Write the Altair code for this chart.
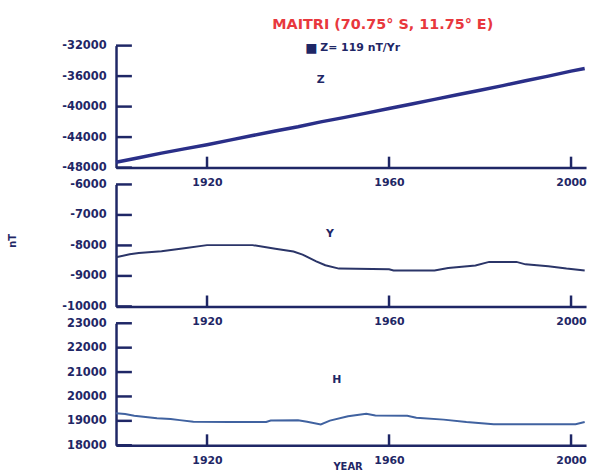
import altair as alt
import pandas as pd

# Vertical field component Z (nT), sampled every few years
years_z = [1900, 1905, 1910, 1915, 1920, 1925, 1930, 1935, 1940, 1945, 1950,
           1955, 1960, 1965, 1970, 1975, 1980, 1985, 1990, 1995, 2000, 2003]
z_nt = [-47300, -46700, -46100, -45550, -45000, -44400, -43800, -43200,
        -42650, -42000, -41450, -40850, -40250, -39650, -39050, -38450,
        -37850, -37250, -36600, -36000, -35350, -35000]

# East component Y (nT)
years_y = [1900, 1903, 1905, 1910, 1915, 1920, 1930, 1933, 1935, 1939, 1941,
           1944, 1946, 1949, 1960, 1961, 1970, 1973, 1979, 1982, 1988, 1990,
           1995, 1999, 2003]
y_nt = [-8390, -8290, -8250, -8190, -8090, -7990, -7990, -8060, -8110, -8200,
        -8300, -8520, -8650, -8760, -8780, -8820, -8820, -8740, -8660, -8540,
        -8540, -8620, -8680, -8760, -8820]

# Horizontal intensity H (nT)
years_h = [1900, 1902, 1904, 1906, 1909, 1912, 1914, 1917, 1925, 1933, 1934,
           1940, 1942, 1945, 1947, 1951, 1953, 1955, 1957, 1964, 1966, 1972,
           1977, 1983, 2001, 2003]
h_nt = [19310, 19280, 19210, 19170, 19110, 19080, 19030, 18960, 18950, 18950,
        19010, 19020, 18960, 18850, 19010, 19190, 19240, 19290, 19220, 19210,
        19130, 19050, 18950, 18860, 18860, 18950]

z_ticks = [-48000, -44000, -40000, -36000, -32000]
y_ticks = [-10000, -9000, -8000, -7000, -6000]
h_ticks = [18000, 19000, 20000, 21000, 22000, 23000]
year_ticks = [1920, 1960, 2000]

YEAR_MIN, YEAR_MAX = 1900, 2003.3
W = 474
PH = 123

NAVY = "#1f2766"
RED = "#e8383d"
FONT = "DejaVu Sans"


def panel(years, vals, domain, ticks, color, stroke, name, name_at, extra=None):
    df = pd.DataFrame({"year": years, "value": vals})
    xs = alt.X(
        "year:Q",
        scale=alt.Scale(domain=[YEAR_MIN, YEAR_MAX], nice=False, zero=False),
        axis=alt.Axis(values=year_ticks, format="d", title=None, ticks=False,
                      grid=False, domainColor=NAVY, domainWidth=2.5,
                      labelColor=NAVY, labelFont=FONT, labelFontSize=11,
                      labelFontWeight="bold", labelPadding=9),
    )
    ys = alt.Y(
        "value:Q",
        scale=alt.Scale(domain=domain, nice=False, zero=False),
        axis=alt.Axis(values=ticks, labelExpr="toString(datum.value)", title=None,
                      ticks=False, grid=False, domainColor=NAVY, domainWidth=2.5,
                      labelColor=NAVY, labelFont=FONT, labelFontSize=11.5,
                      labelFontWeight="bold", labelPadding=10,
                      minExtent=60, maxExtent=60),
    )
    line = alt.Chart(df).mark_line(color=color, strokeWidth=stroke).encode(x=xs, y=ys)

    # inward tick marks on the value axis
    ytk = alt.Chart(pd.DataFrame({"value": ticks})).mark_rule(
        color=NAVY, strokeWidth=2.5
    ).encode(y=ys, x=alt.value(0), x2=alt.value(16))

    # inward tick marks on the year axis
    xtk = alt.Chart(pd.DataFrame({"year": year_ticks})).mark_rule(
        color=NAVY, strokeWidth=2.5
    ).encode(x=xs, y=alt.value(PH), y2=alt.value(PH - 11))

    lbl = alt.Chart(pd.DataFrame({"year": [name_at[0]], "value": [name_at[1]], "t": [name]})).mark_text(
        color=NAVY, font=FONT, fontSize=11, fontWeight="bold"
    ).encode(x=xs, y=ys, text="t:N")

    layers = [line, ytk, xtk, lbl]
    if extra:
        layers += extra
    return alt.layer(*layers).properties(width=W, height=PH)


title_txt = alt.Chart(pd.DataFrame({"t": ["MAITRI (70.75° S, 11.75° E)"]})).mark_text(
    color=RED, font=FONT, fontSize=14.5, fontWeight="bold", align="center", baseline="middle"
).encode(x=alt.value(269), y=alt.value(-21), text="t:N")

rate_box = alt.Chart(pd.DataFrame({"t": ["■"]})).mark_text(
    color=NAVY, font=FONT, fontSize=13, align="center", baseline="middle"
).encode(x=alt.value(197), y=alt.value(2), text="t:N")

rate_txt = alt.Chart(pd.DataFrame({"t": ["Z= 119 nT/Yr"]})).mark_text(
    color=NAVY, font=FONT, fontSize=11, fontWeight="bold", align="left", baseline="middle"
).encode(x=alt.value(206), y=alt.value(2), text="t:N")

nt_txt = alt.Chart(pd.DataFrame({"t": ["nT"]})).mark_text(
    color=NAVY, font=FONT, fontSize=10, fontWeight="bold", angle=270,
    align="center", baseline="middle"
).encode(x=alt.value(-104), y=alt.value(57), text="t:N")

year_txt = alt.Chart(pd.DataFrame({"t": ["YEAR"]})).mark_text(
    color=NAVY, font=FONT, fontSize=10, fontWeight="bold", align="center", baseline="top"
).encode(x=alt.value(234), y=alt.value(PH + 17), text="t:N")

z_panel = panel(years_z, z_nt, [-48000, -32000], z_ticks, "#2a2f88", 3.5,
                "Z", (1945, -36550), [title_txt, rate_box, rate_txt])
y_panel = panel(years_y, y_nt, [-10000, -6000], y_ticks, "#2b3568", 2,
                "Y", (1947, -7630), [nt_txt])
h_panel = panel(years_h, h_nt, [18000, 23000], h_ticks, "#4062a0", 2,
                "H", (1948.5, 20690), [year_txt])

chart = alt.vconcat(z_panel, y_panel, h_panel, spacing=17, bounds="flush").properties(
    padding={"left": 8, "top": 15, "right": 0, "bottom": 0},
    background="white",
).configure_view(stroke=None)

chart.save("out.html", embed_options={"renderer": "svg", "actions": False})
